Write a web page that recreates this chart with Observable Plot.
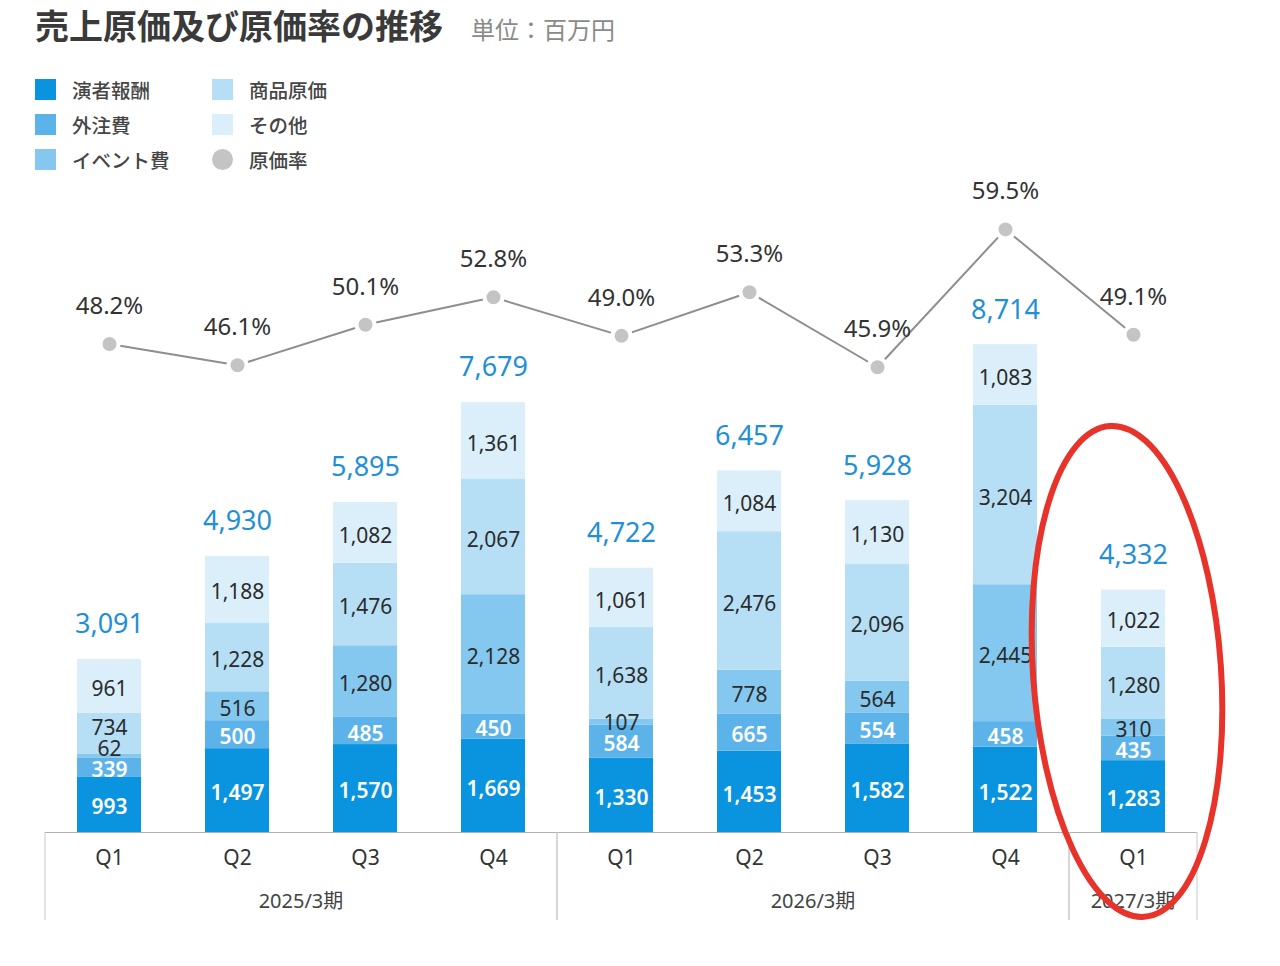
<!DOCTYPE html>
<html><head><meta charset="utf-8">
<script src="https://cdn.jsdelivr.net/npm/d3@7"></script>
<script src="https://cdn.jsdelivr.net/npm/@observablehq/plot@0.6"></script>
<style>
body{margin:0;background:#fff;font-family:"Noto Sans","Noto Sans CJK JP",sans-serif;}
#head{position:relative;height:175px;width:1280px;}
.title{position:absolute;left:35px;top:0px;font-size:34px;font-weight:700;color:#3a3a3a;font-family:"Noto Sans CJK JP",sans-serif;white-space:nowrap;}
.unit{font-size:24px;font-weight:400;color:#8a8a8a;margin-left:28px;}
.lg{position:absolute;font-size:19.5px;font-weight:500;color:#454545;font-family:"Noto Sans CJK JP",sans-serif;display:flex;align-items:center;white-space:nowrap;}
.sw{width:21px;height:21px;margin-right:16px;display:inline-block;}
</style></head>
<body>
<div id="head"></div>
<div id="chart"></div>
<script>
const quarters = ["Q1","Q2","Q3","Q4","Q1","Q2","Q3","Q4","Q1"];
const fiscalYears = ["2025/3期","2025/3期","2025/3期","2025/3期","2026/3期","2026/3期","2026/3期","2026/3期","2027/3期"];
const performerFees = [993,1497,1570,1669,1330,1453,1582,1522,1283];
const outsourcing   = [339,500,485,450,584,665,554,458,435];
const eventCosts    = [62,516,1280,2128,107,778,564,2445,310];
const merchandise   = [734,1228,1476,2067,1638,2476,2096,3204,1280];
const others        = [961,1188,1082,1361,1061,1084,1130,1083,1022];
const totals        = [3091,4930,5895,7679,4722,6457,5928,8714,4332];
const costRates     = [48.2,46.1,50.1,52.8,49.0,53.3,45.9,59.5,49.1];
const seriesNames   = ["演者報酬","外注費","イベント費","商品原価","その他"];
const seriesColors  = ["#0a94df","#5cb3e9","#84c8f0","#b6dff6","#dbeffb"];
const rateName = "原価率";
const rateColor = "#c4c4c4";
const whiteLabelSeries = ["演者報酬","外注費"];

const seriesValues = [performerFees, outsourcing, eventCosts, merchandise, others];
const keys = quarters.map((q,i) => fiscalYears[i] + " " + q);
const LABEL_GAP = 375; // minimum label spacing in value units (keeps stacked labels from colliding)
const rows = [];
keys.forEach((k,i) => {
  let acc = 0, prevLabel = -Infinity;
  seriesNames.forEach((s,j) => {
    const v = seriesValues[j][i];
    const mid = acc + v/2;
    const ly = Math.max(mid, prevLabel + LABEL_GAP);
    prevLabel = ly;
    rows.push({key:k, series:s, value:v, y1:acc, y2:acc+v, ly});
    acc += v;
  });
});
const summary = keys.map((k,i) => ({key:k, quarter:quarters[i], fy:fiscalYears[i], total:totals[i], rate:costRates[i]}));
const fmt = d3.format(",");
const RATE_K = 181; // 1% of cost rate on the shared vertical scale

// header
const head = document.getElementById("head");
head.innerHTML = `<div class="title">売上原価及び原価率の推移<span class="unit">単位：百万円</span></div>`;
const legendItems = seriesNames.map((s,i)=>({name:s,color:seriesColors[i],round:false})).concat([{name:rateName,color:rateColor,round:true}]);
legendItems.forEach((it,i) => {
  const col = Math.floor(i/3), row = i%3;
  const el = document.createElement("div");
  el.className = "lg";
  el.style.left = (35 + col*177) + "px";
  el.style.top = (75 + row*35) + "px";
  el.innerHTML = `<span class="sw" style="background:${it.color};${it.round?"border-radius:50%;":""}"></span>${it.name}`;
  head.appendChild(el);
});

const FONT = '"Noto Sans","Noto Sans CJK JP",sans-serif';
const plot = Plot.plot({
  width: 1280, height: 760,
  marginLeft: 45, marginRight: 83, marginTop: 41, marginBottom: 103,
  style: {fontFamily: FONT, background: "transparent", overflow: "visible"},
  x: {domain: keys, paddingInner: 0.5, paddingOuter: 0.25, axis: null},
  y: {domain: [0, 11000], axis: null},
  color: {domain: seriesNames, range: seriesColors},
  marks: [
    Plot.barY(rows, {x:"key", y1:"y1", y2:"y2", fill:"series"}),
    Plot.text(rows.filter(d => whiteLabelSeries.includes(d.series)), {x:"key", y:"ly", dy:3, text:d=>fmt(d.value), fill:"white", fontSize:21, fontWeight:600}),
    Plot.text(rows.filter(d => !whiteLabelSeries.includes(d.series)), {x:"key", y:"ly", dy:3, text:d=>fmt(d.value), fill:"#2b2b2b", fontSize:21}),
    Plot.text(summary, {x:"key", y:"total", text:d=>fmt(d.total), lineAnchor:"bottom", dy:-26, fill:"#1f90d7", fontSize:27}),
    Plot.ruleY([0], {stroke:"#b0b0b0", strokeWidth:1}),
    Plot.line(summary, {x:"key", y:d=>d.rate*RATE_K, stroke:"#8e8e8e", strokeWidth:2}),
    Plot.dot(summary, {x:"key", y:d=>d.rate*RATE_K, r:9, fill:rateColor, stroke:"white", strokeWidth:4}),
    Plot.text(summary, {x:"key", y:d=>d.rate*RATE_K, text:d=>d.rate.toFixed(1)+"%", lineAnchor:"bottom", dy:-30, fill:"#333", fontSize:24}),
    Plot.text(summary, {x:"key", text:"quarter", frameAnchor:"bottom", dy:32, fill:"#333", fontSize:21})
  ]
});
document.getElementById("chart").appendChild(plot);

// fiscal-year group frame and labels from the x scale
const xs = plot.scale("x");
const ys = plot.scale("y");
const base = ys.apply(0);
const gap = (xs.step - xs.bandwidth) / 2;
const svg = d3.select(plot);
const groups = d3.groups(summary, d => d.fy);
const gFrame = svg.append("g");
groups.forEach(([fy, items]) => {
  const left = xs.apply(items[0].key) - gap;
  const right = xs.apply(items[items.length-1].key) + xs.bandwidth + gap;
  [left, right].forEach(xp => gFrame.append("line").attr("x1",xp).attr("x2",xp).attr("y1",base).attr("y2",base+88).attr("stroke","#c8c8c8"));
  gFrame.append("text").attr("x",(left+right)/2).attr("y",base+71).attr("text-anchor","middle")
    .attr("dominant-baseline","middle").attr("fill","#444").attr("font-size",20).attr("font-family",FONT).text(fy);
});

// hand-drawn red highlight around the latest quarter
const last = summary[summary.length-1];
const cx = xs.apply(last.key) + xs.bandwidth/2 - 6;
const cy = ys.apply(last.total) + 82;
svg.append("ellipse").attr("cx",cx).attr("cy",cy).attr("rx",94).attr("ry",246)
  .attr("transform",`rotate(-4 ${cx} ${cy})`)
  .attr("fill","none").attr("stroke","#e8332b").attr("stroke-width",6);
</script>
</body></html>
